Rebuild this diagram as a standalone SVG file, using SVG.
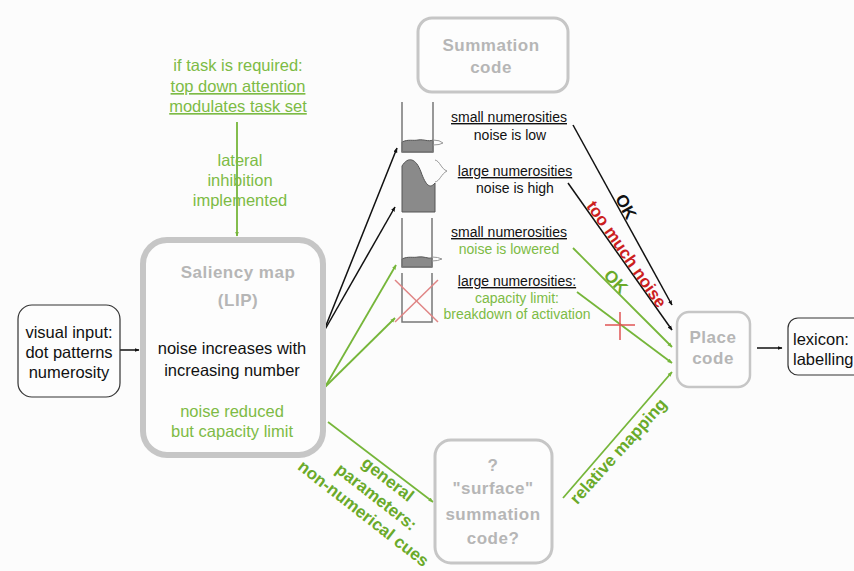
<svg xmlns="http://www.w3.org/2000/svg" width="854" height="571" viewBox="0 0 854 571">
<defs>
<style>
text{font-family:"Liberation Sans",Arial,sans-serif;}
.t{font-size:16.5px;fill:#111;text-anchor:middle;}
.g{font-size:16.5px;fill:#7dbb45;text-anchor:middle;}
.s{font-size:14px;fill:#111;text-anchor:middle;}
.sg{font-size:14px;fill:#7dbb45;text-anchor:middle;}
.u{text-decoration:underline;}
.gr{font-size:17px;font-weight:bold;fill:#b6b6b6;text-anchor:middle;letter-spacing:0.5px;}
.bl{font-size:17px;font-weight:bold;text-anchor:middle;}
.gbox{fill:#fdfdfd;stroke:#c6c6c6;}
.kbox{fill:#fdfdfd;stroke:#333;stroke-width:1.2;}
.lk{stroke:#111;stroke-width:1.5;fill:none;marker-end:url(#ak);}
.lg{stroke:#76b63a;stroke-width:1.8;fill:none;marker-end:url(#ag);}
.hl{stroke:#777;stroke-width:1.5;fill:none;}
.hf{fill:#8a8a8a;stroke:#555;stroke-width:1;}
.bump{fill:none;stroke:#999;stroke-width:1;}
</style>
<marker id="ak" viewBox="0 0 10 10" refX="9" refY="5" markerWidth="5" markerHeight="5" orient="auto" markerUnits="userSpaceOnUse"><path d="M0,1 L10,5 L0,9 Z" fill="#111"/></marker>
<marker id="ag" viewBox="0 0 10 10" refX="9" refY="5" markerWidth="5" markerHeight="5" orient="auto" markerUnits="userSpaceOnUse"><path d="M0,1 L10,5 L0,9 Z" fill="#76b63a"/></marker>
</defs>
<rect x="0" y="0" width="854" height="571" fill="#fcfcfc"/>

<g id="connectors">
<line class="lk" x1="120" y1="350" x2="139" y2="350"/>
<line class="lg" x1="237" y1="122" x2="237" y2="236"/>
<line class="lk" x1="323" y1="333" x2="397" y2="148"/>
<line class="lk" x1="323" y1="333" x2="395" y2="207"/>
<line class="lg" x1="325" y1="387" x2="396" y2="265"/>
<line class="lg" x1="325" y1="387" x2="395" y2="318"/>
<line class="lg" x1="328" y1="422" x2="433" y2="502"/>
<line class="lg" x1="563" y1="498" x2="672" y2="372"/>
<line class="lk" x1="573" y1="125" x2="672" y2="305"/>
<line class="lk" x1="568" y1="183" x2="672" y2="330"/>
<line class="lg" x1="573" y1="248" x2="672" y2="347"/>
<line class="lg" x1="577" y1="292" x2="672" y2="363"/>
<line class="lk" x1="757" y1="348" x2="782" y2="348"/>
<line x1="605" y1="325" x2="635" y2="325" stroke="#e05555" stroke-width="1.5"/>
<line x1="620" y1="312" x2="620" y2="340" stroke="#e05555" stroke-width="1.5"/>
<text class="bl" fill="#111" transform="translate(620,210) rotate(61)" y="-1">OK</text>
<text class="bl" fill="#cc1f1f" transform="translate(621,258) rotate(55)" y="-1">too much noise</text>
<text class="bl" fill="#6aaa2a" transform="translate(611,286) rotate(46)" y="-1">OK</text>
<text class="bl" fill="#6aaa2a" transform="translate(618,451) rotate(-48)" y="6">relative mapping</text>
<g transform="translate(388,479) rotate(38)">
<text class="bl" fill="#6aaa2a" y="6">general</text>
<text class="bl" fill="#6aaa2a" x="2" y="27">parameters:</text>
<text class="bl" fill="#6aaa2a" x="2" y="48">non-numerical cues</text>
</g>
</g>

<g id="task">
<text class="g" x="238" y="71">if task is required:</text>
<text class="g u" x="238" y="92">top down attention</text>
<text class="g u" x="238" y="112">modulates task set</text>
</g>
<g id="lateral">
<text class="g" x="240" y="166">lateral</text>
<text class="g" x="240" y="186">inhibition</text>
<text class="g" x="240" y="206">implemented</text>
</g>

<g id="visual-input">
<rect class="kbox" x="18" y="305" width="102" height="92" rx="14"/>
<text class="t" x="69" y="338" font-size="17">visual input:</text>
<text class="t" x="69" y="358" font-size="17">dot patterns</text>
<text class="t" x="69" y="378" font-size="17">numerosity</text>
</g>

<g id="saliency">
<rect class="gbox" x="143" y="240" width="180" height="215" rx="24" stroke-width="6"/>
<text class="gr" x="238" y="278" font-size="18">Saliency map</text>
<text class="gr" x="238" y="306" font-size="18">(LIP)</text>
<text class="t" x="232" y="354">noise increases with</text>
<text class="t" x="232" y="376">increasing number</text>
<text class="g" x="232" y="417">noise reduced</text>
<text class="g" x="232" y="437">but capacity limit</text>
</g>

<g id="summation">
<rect class="gbox" x="418" y="18" width="150" height="74" rx="14" stroke-width="3"/>
<text class="gr" x="491" y="51">Summation</text>
<text class="gr" x="491" y="73">code</text>
</g>

<g id="hist1">
<path class="hf" d="M402,152 L402,142 C408,139 413,141 418,140 C424,139 428,142 433,140 L433,152 Z"/>
<path class="hl" d="M402,102 L402,152 L433,152 L433,102"/>
<path class="bump" d="M433,140 Q440,140 443,143 Q440,145 433,145"/>
</g>
<g id="hist2">
<path class="hf" d="M402,212 L402,166 C408,156 416,158 421,172 C426,186 430,189 435,183 L435,212 Z"/>
<path class="bump" d="M435,160 C440,161 441,169 447,171 C441,174 440,181 435,182"/>
</g>
<g id="hist3">
<path class="hf" d="M402,267 L402,259 C408,256 413,258 418,257 C424,256 428,259 432,258 L432,267 Z"/>
<path class="hl" d="M402,218 L402,267 L432,267 L432,218"/>
<path class="bump" d="M432,257 Q438,257 442,259 Q438,261 432,261"/>
</g>
<g id="hist4">
<path class="hl" d="M402,273 L402,322 L432,322 L432,273"/>
<line x1="395" y1="280" x2="438" y2="322" stroke="#e08585" stroke-width="1.5"/>
<line x1="438" y1="280" x2="395" y2="322" stroke="#e08585" stroke-width="1.5"/>
</g>

<g id="labels-hist">
<text class="s u" x="509" y="122">small numerosities</text>
<text class="s" x="510" y="140">noise is low</text>
<text class="s u" x="515" y="176">large numerosities</text>
<text class="s" x="515" y="193">noise is high</text>
<text class="s u" x="509" y="237">small numerosities</text>
<text class="sg" x="509" y="254">noise is lowered</text>
<text class="s u" x="517" y="286">large numerosities:</text>
<text class="sg" x="517" y="303">capacity limit:</text>
<text class="sg" x="517" y="319">breakdown of activation</text>
</g>

<g id="place">
<rect class="gbox" x="677" y="312" width="73" height="75" rx="12" stroke-width="2.5"/>
<text class="gr" x="713" y="343">Place</text>
<text class="gr" x="713" y="364">code</text>
</g>

<g id="lexicon">
<rect class="kbox" x="788" y="318" width="80" height="57" rx="10"/>
<text class="t" x="793" y="345" style="text-anchor:start">lexicon:</text>
<text class="t" x="793" y="365" style="text-anchor:start">labelling</text>
</g>

<g id="surface">
<rect class="gbox" x="435" y="440" width="117" height="123" rx="16" stroke-width="3"/>
<text class="gr" x="493" y="471">?</text>
<text class="gr" x="493" y="494">"surface"</text>
<text class="gr" x="493" y="520">summation</text>
<text class="gr" x="493" y="544">code?</text>
</g>
</svg>
